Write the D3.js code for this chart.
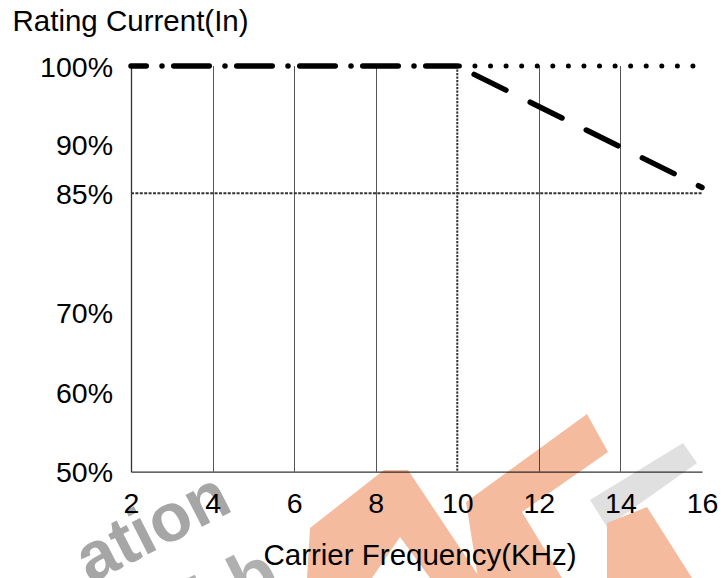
<!DOCTYPE html>
<html>
<head>
<meta charset="utf-8">
<script src="https://cdn.jsdelivr.net/npm/d3@7"></script>
<style>
  html, body { margin: 0; padding: 0; background: #fff; }
  svg { display: block; font-family: "Liberation Sans", Arial, sans-serif; }
</style>
</head>
<body>
<svg id="chart" width="722" height="578"></svg>
<script>
// Carrier frequency (kHz) ticks and rating current (%) ticks
const freqTicks = [2, 4, 6, 8, 10, 12, 14, 16];
const ratingTicks = [50, 60, 70, 85, 90, 100];

// Full rating up to the derating breakpoint
const ratedFreq = [2, 10];
const ratedCurrent = [100, 100];

// 100% reference continued past the breakpoint
const refFreq = [10, 16];
const refCurrent = [100, 100];

// Derated current above the breakpoint
const deratedFreq = [10, 16];
const deratedCurrent = [100, 85.6];

// Guide lines: breakpoint frequency and minimum rating
const guideFreq = 10;
const guideCurrent = 85;

const svg = d3.select("#chart");

const x = d3.scaleLinear().domain([2, 16]).range([131, 702]);
// the rating axis is not evenly spaced: it is pieced together between tick anchors
const y = d3.scaleLinear().domain([50, 85, 90, 100]).range([471.7, 193.3, 144.7, 66]);

// vertical grid lines
const gridFreq = freqTicks.filter(f => f !== 2 && f !== 16 && f !== guideFreq);
svg.append("g").selectAll("line").data(gridFreq).join("line")
  .attr("x1", d => Math.round(x(d)) + 0.5).attr("x2", d => Math.round(x(d)) + 0.5)
  .attr("y1", y(100)).attr("y2", y(50))
  .attr("stroke", "#555").attr("stroke-width", 1);

// guide lines
svg.append("line")
  .attr("x1", x(guideFreq)).attr("x2", x(guideFreq))
  .attr("y1", y(100)).attr("y2", y(50))
  .attr("stroke", "#333").attr("stroke-width", 2).attr("stroke-dasharray", "2.2 1.3");
svg.append("line")
  .attr("x1", x(2)).attr("x2", x(16))
  .attr("y1", y(guideCurrent)).attr("y2", y(guideCurrent))
  .attr("stroke", "#333").attr("stroke-width", 2).attr("stroke-dasharray", "3 1.4");

// axes
const fs = 28.5;
const xAxis = svg.append("g")
  .attr("transform", `translate(0,${y(50)})`)
  .call(d3.axisBottom(x).tickValues(freqTicks).tickSize(0).tickSizeOuter(0).tickPadding(21).tickFormat(d3.format("d")));
const yAxis = svg.append("g")
  .attr("transform", `translate(${x(2)},0)`)
  .call(d3.axisLeft(y).tickValues(ratingTicks).tickSize(0).tickSizeOuter(0).tickPadding(18).tickFormat(d => d + "%"));
[xAxis, yAxis].forEach(a => {
  a.select(".domain").attr("stroke", "#333").attr("stroke-width", 1.3);
  a.selectAll("text").attr("font-size", fs).attr("fill", "#000")
    .attr("font-family", "'Liberation Sans', Arial, sans-serif");
});
yAxis.selectAll("text").attr("dy", "0.36em");

const line = d3.line().x(d => x(d[0])).y(d => y(d[1]));

// dotted 100% reference
svg.append("path")
  .attr("d", line(d3.zip(refFreq, refCurrent)))
  .attr("fill", "none").attr("stroke", "#000").attr("stroke-width", 5)
  .attr("stroke-linecap", "round").attr("stroke-dasharray", "0 15.57").attr("stroke-dashoffset", 13.47);

// derated current, dashed
svg.append("path")
  .attr("d", line(d3.zip(deratedFreq, deratedCurrent)))
  .attr("fill", "none").attr("stroke", "#000").attr("stroke-width", 5.5)
  .attr("stroke-linecap", "round").attr("stroke-dasharray", "35.5 27.1").attr("stroke-dashoffset", 43.8);

// rated current, dash-dot
svg.append("path")
  .attr("d", line(d3.zip(ratedFreq, ratedCurrent)))
  .attr("fill", "none").attr("stroke", "#000").attr("stroke-width", 5.5)
  .attr("stroke-linecap", "round").attr("stroke-dasharray", "35.5 15.75 0 11.75").attr("stroke-dashoffset", 20.25);

// axis titles
svg.append("text").attr("x", 12.5).attr("y", 30.5)
  .attr("font-size", 29.5).attr("fill", "#000").text("Rating Current(In)");
svg.append("text").attr("x", 420).attr("y", 565).attr("text-anchor", "middle")
  .attr("font-size", 29.5).attr("fill", "#000").text("Carrier Frequency(KHz)");

// publisher stamp across the lower part
const stamp = svg.append("g").style("mix-blend-mode", "multiply");
stamp.append("text")
  .attr("transform", "translate(90,584) rotate(-27)")
  .attr("font-size", 68).attr("font-weight", "bold").attr("fill", "#a6a6a6")
  .text("ation");
stamp.append("text")
  .attr("transform", "translate(205,628) rotate(-27)")
  .attr("font-size", 72).attr("font-weight", "bold").attr("fill", "#b0b0b0")
  .text("hb");
const orange = "#f5bb9f";
const shapes = [
  { pts: [[307,578],[310,528],[384,470],[408,470],[480,578],[430,578],[400,537],[372,578]], fill: orange },
  { pts: [[466,502],[587,414],[608,452],[522,512],[562,578],[478,578]], fill: orange },
  { pts: [[590,500],[683,443],[697,463],[607,527]], fill: "#e0e0e0" },
  { pts: [[607,523],[647,507],[692,578],[607,578]], fill: orange }
];
stamp.selectAll("path").data(shapes).join("path")
  .attr("d", d => "M" + d.pts.map(p => p.join(",")).join("L") + "Z")
  .attr("fill", d => d.fill);
</script>
</body>
</html>
